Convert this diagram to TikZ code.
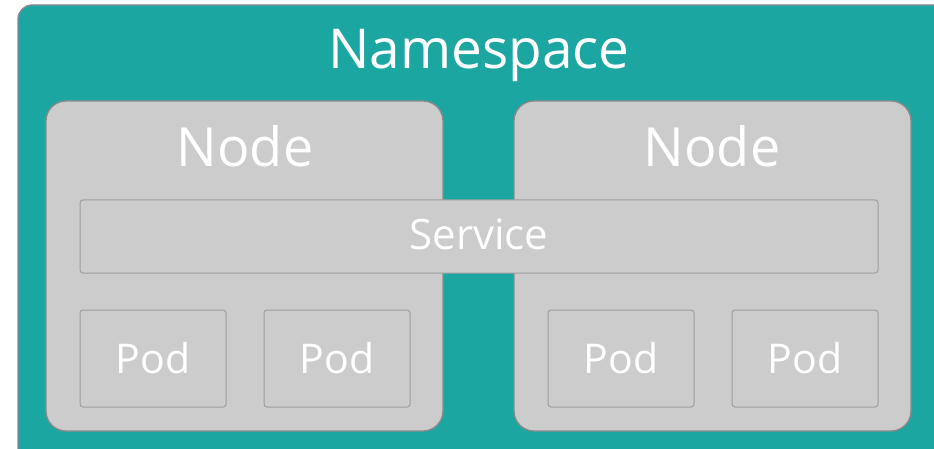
\documentclass[tikz,border=0pt]{standalone}
\usepackage{fontspec}
\setmainfont{Open Sans}
\definecolor{nsteal}{HTML}{1BA6A2}
\definecolor{boxgray}{HTML}{CCCCCC}
\definecolor{edgegray}{HTML}{8A8A8A}
\definecolor{podedge}{HTML}{9E9E9E}
\begin{document}
\begin{tikzpicture}[x=1pt, y=-1pt,
  nsbox/.style={draw=edgegray, fill=nsteal, line width=1.3pt, rounded corners=14pt, inner sep=0pt, outer sep=0pt, anchor=north west},
  hostbox/.style={draw=edgegray, fill=boxgray, line width=1.3pt, rounded corners=20pt, inner sep=0pt, outer sep=0pt, anchor=north west, minimum width=397pt, minimum height=330pt},
  svcbox/.style={draw=podedge, fill=boxgray, line width=1pt, rounded corners=3pt, inner sep=0pt, outer sep=0pt, anchor=north west},
  podbox/.style={svcbox, minimum width=146pt, minimum height=97pt},
  txt/.style={text=white, anchor=base, inner sep=0pt}]
\useasboundingbox (0,0) rectangle (934,449);
\node[nsbox, minimum width=940pt, minimum height=470pt] (ns) at (18,5){};
\node[txt, font=\fontsize{55}{60}\selectfont] (nslabel) at (479,69){Namespace};
\node[hostbox] (node0) at (46,101){};
\node[hostbox] (node1) at (514,101){};
\node[txt, font=\fontsize{54}{58}\selectfont] (nodelabel0) at (245,167){Node};
\node[txt, font=\fontsize{54}{58}\selectfont] (nodelabel1) at (712,167){Node};
\node[svcbox, minimum width=798pt, minimum height=73pt] (svc) at (80,200){};
\node[txt, font=\fontsize{42}{46}\selectfont] (svclabel) at (479,249){Service};
\node[podbox] (pod0) at (80,310){};
\node[podbox] (pod1) at (264,310){};
\node[podbox] (pod2) at (548,310){};
\node[podbox] (pod3) at (732,310){};
\node[txt, font=\fontsize{41}{44}\selectfont] (podlabel0) at (153,373){Pod};
\node[txt, font=\fontsize{41}{44}\selectfont] (podlabel1) at (337,373){Pod};
\node[txt, font=\fontsize{41}{44}\selectfont] (podlabel2) at (621,373){Pod};
\node[txt, font=\fontsize{41}{44}\selectfont] (podlabel3) at (805,373){Pod};
\end{tikzpicture}
\end{document}
